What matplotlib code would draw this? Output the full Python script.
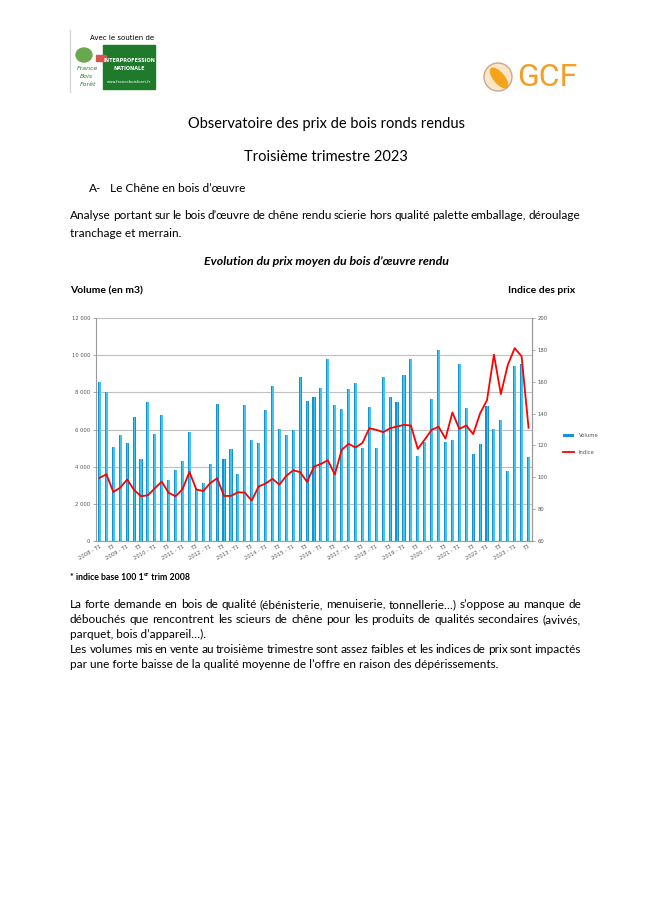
import matplotlib
matplotlib.use("Agg")
import matplotlib.pyplot as plt
from matplotlib.patches import Rectangle, Circle, Ellipse
import numpy as np

# volumes (m3) par trimestre, 2008 T1 -> 2023 T3
volume = [8560, 8010, 5040, 5690, 5300, 6660, 4420, 7490, 5780, 6770,
          3300, 3810, 4290, 5850, 2780, 3100, 4150, 7360, 4400, 4960,
          3610, 7310, 5420, 5300, 7070, 8350, 6030, 5690, 5960, 8850,
          7540, 7760, 8220, 9780, 7310, 7110, 8200, 8490, 5030, 7200,
          5030, 8820, 7770, 7470, 8940, 9780, 4580, 5330, 7630, 10290,
          5330, 5420, 9530, 7160, 4670, 5210, 7240, 6010, 6520, 3770,
          9410, 9530, 4540]
# indice des prix (base 100 1er trim 2008)
indice = [99.6, 101.9, 90.8, 93.5, 98.6, 92.1, 88.1, 88.7, 93.1, 97.3,
          90.2, 88.1, 92.5, 103.4, 92.3, 91.4, 96.3, 99.4, 88.3, 88.3,
          90.6, 90.4, 85.4, 94.2, 96.1, 99.0, 95.4, 100.9, 104.4, 103.2,
          97.1, 106.7, 108.4, 110.7, 101.7, 117.2, 121.0, 118.7, 121.6, 130.8,
          129.8, 128.3, 130.8, 131.9, 132.9, 132.5, 117.8, 123.7, 129.8, 131.7,
          124.3, 140.7, 130.4, 132.5, 127.1, 140.1, 148.5, 177.0, 152.2, 170.5,
          181.1, 175.9, 131.1]
quarters = [f"{2008 + i // 4} - T{i % 4 + 1}" for i in range(len(volume))]
tick_labels = [q if q.endswith("T1") else "T3" for q in quarters[::2]]
vol_ticks = [0, 2000, 4000, 6000, 8000, 10000, 12000]
vol_tick_labels = ["0", "2 000", "4 000", "6 000", "8 000", "10 000", "12 000"]
idx_ticks = [60, 80, 100, 120, 140, 160, 180, 200]

W, H = 657, 916
fig = plt.figure(figsize=(W / 100, H / 100), dpi=100)
fig.patch.set_facecolor("white")
FONT = "Lato"
BODY = 8.5


def px(x, y):
    return x / W, 1 - y / H


def txt(x, y, s, size=BODY, **kw):
    # y = middle of the x-height; text is placed on its baseline
    kw.setdefault("family", FONT)
    kw.setdefault("color", "black")
    return fig.text(*px(x, y + size * 0.45), s, fontsize=size, va="baseline", **kw)


def justify(line, y, x0=70, x1=581, size=BODY, **kw):
    words = line.split()
    items = [txt(0, y, w, size=size, **kw) for w in words]
    r = fig.canvas.get_renderer()
    widths = [t.get_window_extent(r).width for t in items]
    gap = (x1 - x0 - sum(widths)) / (len(words) - 1)
    x = x0
    for t, w in zip(items, widths):
        t.set_x(x / W)
        x += w + gap


def runs(x, y, parts, **kw):
    r = fig.canvas.get_renderer()
    for s, size, dy in parts:
        t = txt(x, y + dy, s, size=size, **kw)
        x += t.get_window_extent(r).width


# --- logos ---
deco = fig.add_axes([0, 0, 1, 1], zorder=-1)
deco.set_xlim(0, W)
deco.set_ylim(H, 0)
deco.axis("off")
deco.plot([70, 70], [30, 92], color="#d8d8d8", lw=1)
deco.add_patch(Rectangle((103, 45), 52, 44, color="#1f7a2c"))
deco.add_patch(Ellipse((84, 55), 16, 14, color="#6aa84f"))
deco.add_patch(Rectangle((96, 55), 10, 6, color="#d9534f"))
fig.text(*px(122, 38), "Avec le soutien de", fontsize=5, ha="center", va="center")
fig.text(*px(88, 68), "France", fontsize=4.5, color="#2e7d32", ha="center", va="center", style="italic")
fig.text(*px(86, 76), "Bois", fontsize=4.5, color="#2e7d32", ha="center", va="center", style="italic")
fig.text(*px(88, 84), "Forêt", fontsize=4.5, color="#2e7d32", ha="center", va="center", style="italic")
fig.text(*px(129, 60), "INTERPROFESSION", fontsize=3.5, color="white", ha="center", va="center", weight="bold")
fig.text(*px(129, 68), "NATIONALE", fontsize=3.5, color="white", ha="center", va="center", weight="bold")
fig.text(*px(129, 82), "www.franceboisforet.fr", fontsize=2.8, color="white", ha="center", va="center")

deco.add_patch(Circle((498, 77), 14, facecolor="#fce6c8", edgecolor="#c9a98a", lw=1))
deco.add_patch(Ellipse((499, 78), 10, 24, angle=-40, color="#f5a31a"))
fig.text(*px(517, 78), "GCF", fontsize=23, color="#f19f26", family="Roboto",
         weight="normal", ha="left", va="center")

# --- page text ---
txt(326, 123, "Observatoire des prix de bois ronds rendus", size=10.5, ha="center")
txt(326, 156, "Troisième trimestre 2023", size=10.5, ha="center")
txt(89, 188, "A-", size=8.6)
txt(110, 188, "Le Chêne en bois d’œuvre", size=8.6)
justify("Analyse portant sur le bois d’œuvre de chêne rendu scierie hors qualité palette emballage, déroulage",
        215, x1=580)
txt(70, 233, "tranchage et merrain.")
txt(326, 261, "Evolution du prix moyen du bois d’œuvre rendu", size=8.9, ha="center",
    weight="bold", style="italic")
txt(70, 290, "Volume (en m3)", size=7.5, weight="bold")
txt(575, 290, "Indice des prix", size=7.5, weight="bold", ha="right")

# --- chart ---
ax = fig.add_axes([96 / W, 1 - 541 / H, (532 - 96) / W, (541 - 318) / H])
x = np.arange(len(volume))
ax.bar(x, volume, width=0.45, color="#1591d2", label="Volume", zorder=2)
ax.bar(x + 0.06, volume, width=0.26, color="#40c6ee", zorder=2)
ax.set_xlim(-0.5, len(volume) - 0.5)
ax.set_ylim(0, 12000)
ax.set_yticks(vol_ticks)
ax.set_yticklabels(vol_tick_labels)
ax.yaxis.grid(True, color="#c0c0c0", lw=0.8, zorder=0)
ax.set_xticks(x[::2])
ax.set_xticklabels(tick_labels, rotation=30, ha="right", rotation_mode="anchor")
ax.spines["top"].set_visible(False)
for s in ["left", "bottom", "right"]:
    ax.spines[s].set_color("#9a9a9a")
    ax.spines[s].set_linewidth(0.8)
ax.tick_params(axis="both", labelsize=3.8, labelcolor="#555555", color="#9a9a9a",
               length=2, width=0.6, pad=2)
ax.tick_params(axis="x", length=0)

ax2 = ax.twinx()
ax2.plot(x, indice, color="#ff0000", lw=1.3, label="Indice", zorder=3)
ax2.set_ylim(60, 200)
ax2.set_yticks(idx_ticks)
for s in ["top", "left", "bottom"]:
    ax2.spines[s].set_visible(False)
ax2.spines["right"].set_color("#9a9a9a")
ax2.spines["right"].set_linewidth(0.8)
ax2.tick_params(axis="y", labelsize=3.8, labelcolor="#555555", color="#9a9a9a",
                length=2, width=0.6, pad=2)

h1, l1 = ax.get_legend_handles_labels()
h2, l2 = ax2.get_legend_handles_labels()
fig.legend(h1 + h2, l1 + l2, loc="center left", bbox_to_anchor=px(558, 444),
           frameon=False, fontsize=3.8, handlelength=2.2, handleheight=0.5,
           labelspacing=2.2, labelcolor="#555555")

# --- footnote and comment ---
runs(70, 577, [("* indice base 100 1", 6.3, 0), ("er", 4.2, -2.5), (" trim 2008", 6.3, 0)],
     weight="bold")

justify("La forte demande en bois de qualité (ébénisterie, menuiserie, tonnellerie…) s’oppose au manque de",
        604)
justify("débouchés que rencontrent les scieurs de chêne pour les produits de qualités secondaires (avivés,",
        619)
txt(70, 634, "parquet, bois d’appareil…).")
justify("Les volumes mis en vente au troisième trimestre sont assez faibles et les indices de prix sont impactés",
        649)
txt(70, 664, "par une forte baisse de la qualité moyenne de l’offre en raison des dépérissements.")

fig.savefig("out.png", dpi=100)
